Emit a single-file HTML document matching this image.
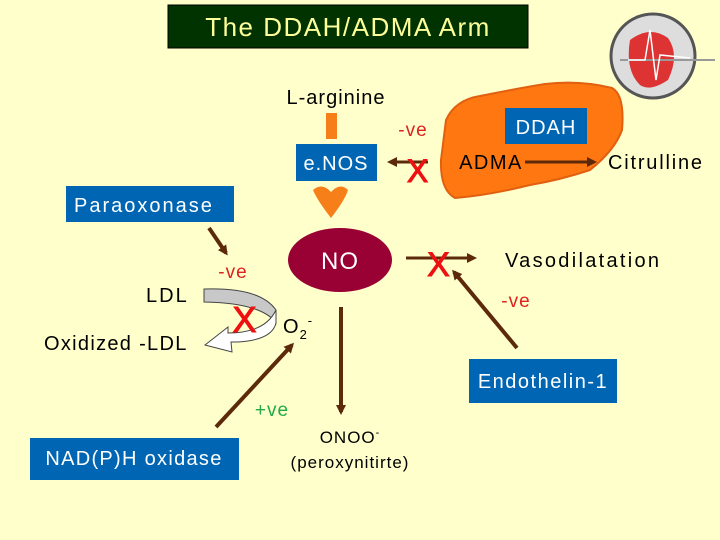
<!DOCTYPE html>
<html><head><meta charset="utf-8"><style>
html,body{margin:0;padding:0;background:#FFFFCC;}
svg{display:block;font-family:"Liberation Sans",sans-serif;}
text{letter-spacing:1px;}
</style></head><body>
<svg width="720" height="540" viewBox="0 0 720 540" xmlns="http://www.w3.org/2000/svg">
<defs>
<marker id="ah" markerWidth="10" markerHeight="10" refX="7" refY="5" orient="auto" markerUnits="userSpaceOnUse"><path d="M0,0 L10,5 L0,10 z" fill="#5C2A0A"/></marker>
</defs>
<rect width="720" height="540" fill="#FFFFCC"/>
<!-- title -->
<rect x="168" y="5" width="360" height="43" fill="#003300" stroke="#000" stroke-width="1"/>
<text x="348" y="36" font-size="26" fill="#FFFF99" text-anchor="middle" style="letter-spacing:1.5px">The DDAH/ADMA Arm</text>
<!-- heart logo -->
<circle cx="653" cy="56" r="42" fill="#DDDDDD" stroke="#555" stroke-width="3"/>
<path d="M630,40 Q650,25 668,38 Q680,55 668,80 Q650,92 640,85 Q625,70 630,40z" fill="#DD3333"/>
<line x1="620" y1="60" x2="715" y2="60" stroke="#999" stroke-width="2"/>
<polyline points="628,60 645,60 650,30 656,80 660,55 690,58" fill="none" stroke="#fff" stroke-width="1.5"/>
<!-- liver -->
<path d="M446,120 Q455,100 480,96 Q520,88 545,84 Q580,80 612,88 Q625,95 622,130 Q615,150 590,170 Q560,180 530,185 Q490,195 455,198 Q440,190 441,160 z" fill="#FF7711" stroke="#E06010" stroke-width="2"/>
<rect x="505" y="108" width="82" height="36" fill="#0066B3"/>
<text x="546" y="134" font-size="20" fill="#fff" text-anchor="middle">DDAH</text>
<text x="491" y="169" font-size="20" fill="#000" text-anchor="middle" style="letter-spacing:1.5px">ADMA</text>
<line x1="525" y1="162" x2="594" y2="162" stroke="#5C2A0A" stroke-width="3" marker-end="url(#ah)"/>
<text x="608" y="169" font-size="20" fill="#000" style="letter-spacing:1.8px">Citrulline</text>
<!-- L-arginine / eNOS -->
<text x="336" y="104" font-size="20" fill="#000" text-anchor="middle">L-arginine</text>
<rect x="326" y="113" width="11" height="26" fill="#F77F1A"/>
<rect x="296" y="144" width="81" height="37" fill="#0066B3"/>
<text x="336" y="170" font-size="20" fill="#fff" text-anchor="middle">e.NOS</text>
<path d="M313,190 Q322,182 331,192 Q340,182 348,190 Q345,200 331,218 Q317,200 313,190 z" fill="#F77F1A"/>
<text x="413" y="136" font-size="19" fill="#DD2222" text-anchor="middle">-ve</text>
<line x1="428" y1="162" x2="390" y2="162" stroke="#5C2A0A" stroke-width="3" marker-end="url(#ah)"/>
<text x="418" y="182" font-size="32" fill="#EE1111" stroke="#EE1111" stroke-width="1" text-anchor="middle">X</text>
<!-- Paraoxonase -->
<rect x="66" y="186" width="168" height="36" fill="#0066B3"/>
<text x="74" y="212" font-size="20" fill="#fff" style="letter-spacing:2px">Paraoxonase</text>
<line x1="209" y1="228" x2="226" y2="253" stroke="#5C2A0A" stroke-width="4" marker-end="url(#ah)"/>
<text x="233" y="278" font-size="19" fill="#DD2222" text-anchor="middle">-ve</text>
<text x="146" y="302" font-size="20" fill="#000" style="letter-spacing:2px">LDL</text>
<text x="44" y="350" font-size="20" fill="#000" style="letter-spacing:1.3px">Oxidized -LDL</text>
<!-- curved arrow -->
<path d="M204,289 Q260,287 276,310 L276,323 Q262,303 204,302 z" fill="#C8C8C8" stroke="#444" stroke-width="1"/>
<path d="M276,310 L276,323 Q272,340 238,342 L231,342 L232,352 L205,345 L228,327 L228,333 Q265,333 276,310 z" fill="#fff" stroke="#444" stroke-width="1"/>
<text x="245" y="332" font-size="36" fill="#EE1111" stroke="#EE1111" stroke-width="1" text-anchor="middle">X</text>
<text x="283" y="333" font-size="20" fill="#000">O<tspan font-size="13" dy="6">2</tspan><tspan font-size="13" dy="-14">-</tspan></text>
<!-- NO -->
<ellipse cx="340" cy="260" rx="52" ry="32" fill="#990033"/>
<text x="340" y="269" font-size="24" fill="#fff" text-anchor="middle">NO</text>
<line x1="406" y1="258" x2="474" y2="258" stroke="#5C2A0A" stroke-width="3" marker-end="url(#ah)"/>
<text x="439" y="276" font-size="34" fill="#EE1111" stroke="#EE1111" stroke-width="1" text-anchor="middle">X</text>
<text x="505" y="267" font-size="20" fill="#000" style="letter-spacing:2.3px">Vasodilatation</text>
<line x1="517" y1="348" x2="454" y2="272" stroke="#5C2A0A" stroke-width="4" marker-end="url(#ah)"/>
<text x="516" y="307" font-size="19" fill="#DD2222" text-anchor="middle">-ve</text>
<rect x="469" y="359" width="148" height="44" fill="#0066B3"/>
<text x="543" y="388" font-size="20" fill="#fff" text-anchor="middle" style="letter-spacing:1.5px">Endothelin-1</text>
<line x1="341" y1="307" x2="341" y2="412" stroke="#5C2A0A" stroke-width="4" marker-end="url(#ah)"/>
<text x="350" y="443" font-size="17" fill="#000" text-anchor="middle">ONOO<tspan font-size="11" dy="-7">-</tspan></text>
<text x="350" y="468" font-size="17" fill="#000" text-anchor="middle">(peroxynitirte)</text>
<text x="272" y="416" font-size="19" fill="#22AA44" text-anchor="middle">+ve</text>
<line x1="216" y1="427" x2="292" y2="345" stroke="#5C2A0A" stroke-width="4" marker-end="url(#ah)"/>
<rect x="30" y="438" width="209" height="42" fill="#0066B3"/>
<text x="134" y="465" font-size="20" fill="#fff" text-anchor="middle" style="letter-spacing:1.3px">NAD(P)H oxidase</text>
</svg>
</body></html>
